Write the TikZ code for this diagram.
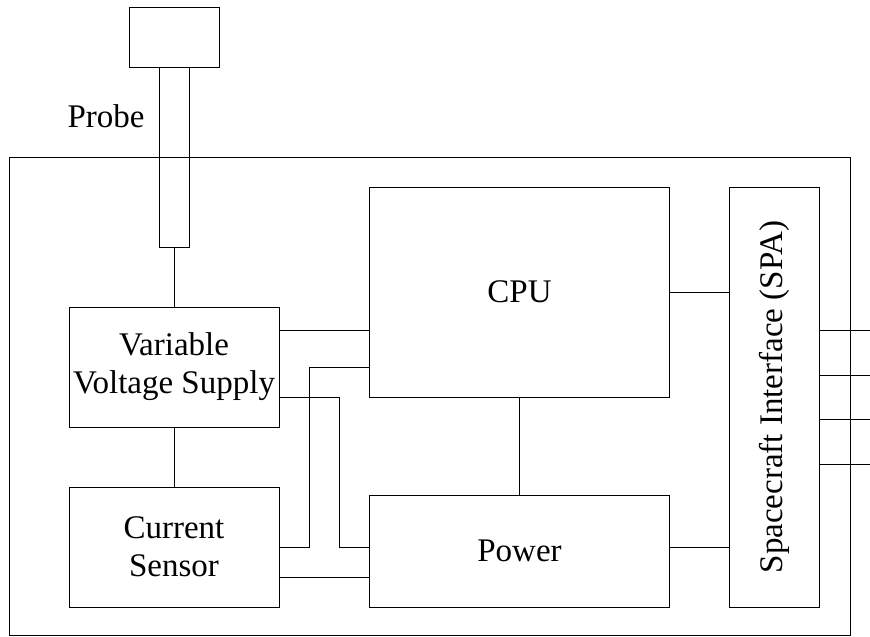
\documentclass[tikz,border=0pt]{standalone}
\usepackage{fontspec}
\setmainfont{Liberation Serif}
\usepackage{tikz}
\usetikzlibrary{positioning}

\begin{document}
\begin{tikzpicture}[
    x=1pt, y=-1pt,
    every path/.style={line width=1pt},
    box/.style={draw=black, line width=1pt, rectangle, inner sep=0pt, align=center, font=\fontsize{33}{38}\selectfont},
    wire/.style={draw=black, line width=1pt}
]
  \useasboundingbox (0,0) rectangle (870,637);

  % Nodes
  \node (frame) [box, minimum width=841pt, minimum height=478pt] at (429.5,396) {};
  \node (probehead) [box, minimum width=90pt, minimum height=60pt] at (174,37) {};
  \node (probestem) [box, minimum width=30pt, minimum height=180pt] at (174,157) {};
  \node (probelabel) [font=\fontsize{33}{38}\selectfont, inner sep=0pt] at (106,116) {Probe};

  \node (vvs) [box, minimum width=210pt, minimum height=120pt] at (174,367) {Variable\\Voltage Supply};
  \node (sensor) [box, minimum width=210pt, minimum height=120pt] at (174,547) {Current\\Sensor};
  \node (cpu) [box, minimum width=300pt, minimum height=210pt] at (519.5,292) {CPU};
  \node (power) [box, minimum width=300pt, minimum height=112pt] at (519.5,551) {Power};
  \node (spa) [box, minimum width=90pt, minimum height=420pt] at (774,397) {\rotatebox{90}{Spacecraft Interface (SPA)}};

  \coordinate (edge) at (870,0);

  % Wires
  \draw [wire] (probestem.south) -- (vvs.north);
  \draw [wire] (vvs) -- (sensor);
  \draw [wire] (cpu) -- (power);
  \draw [wire] (vvs.east |- 0,330) -- (cpu.west |- 0,330);
  \draw [wire] (sensor.east) -- ++(30,0) |- (cpu.west |- 0,367);
  \draw [wire] (vvs.east |- 0,397) -- ++(60,0) |- (power.west |- sensor.east);
  \draw [wire] (sensor.east |- 0,577) -- (power.west |- 0,577);
  \draw [wire] (cpu.east) -- (spa.west |- cpu.east);
  \draw [wire] (power.east |- sensor.east) -- (spa.west |- sensor.east);
  \foreach \y in {330,375,419,464}
    \draw [wire] (spa.east |- 0,\y) -- (edge |- 0,\y);

\end{tikzpicture}
\end{document}
